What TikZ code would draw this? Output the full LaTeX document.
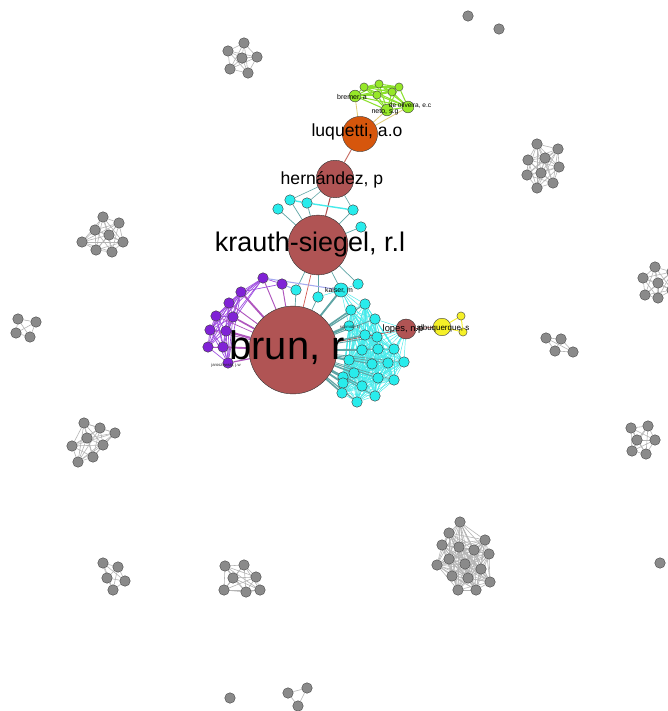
\documentclass[tikz,border=0pt]{standalone}
\usepackage{fontspec}
\setmainfont{Liberation Sans}

\definecolor{hubred}{RGB}{176,84,84}
\definecolor{luqorange}{RGB}{214,86,12}
\definecolor{lgreen}{RGB}{150,232,40}
\definecolor{vpurple}{RGB}{128,34,214}
\definecolor{ncyan}{RGB}{40,236,236}
\definecolor{nyellow}{RGB}{245,240,40}
\definecolor{ngray}{RGB}{138,138,138}
\definecolor{egray}{RGB}{180,180,180}
\definecolor{ecyan}{RGB}{70,235,235}
\definecolor{eteal}{RGB}{95,165,165}
\definecolor{epurple}{RGB}{160,80,225}
\definecolor{emauve}{RGB}{175,85,190}
\definecolor{egreen}{RGB}{140,225,45}
\definecolor{etan}{RGB}{225,205,120}
\definecolor{ered}{RGB}{200,110,100}
\definecolor{elav}{RGB}{165,170,240}

\pgfdeclarelayer{paper}
\pgfdeclarelayer{links}
\pgfsetlayers{paper,links,main}

% every pair of nodes #1\i, #1\j joined
\newcommand{\meshall}[3]{%
  \foreach \i in {1,...,#2}{\foreach \j in {\i,...,#2}{%
    \ifnum\i<\j\relax \draw[#3] (#1\i) -- (#1\j);\fi}}}

\begin{document}
\begin{tikzpicture}[x=0.03cm, y=-0.03cm,
	vert/.style={circle, draw=black!75, line width=0.35pt, inner sep=0pt, minimum size=9pt},
	hub/.style={vert, fill=hubred, draw=black!80},
	gnode/.style={vert, fill=ngray, draw=black!70, minimum size=9pt},
	cnode/.style={vert, fill=ncyan},
	pnode/.style={vert, fill=vpurple},
	lnode/.style={vert, fill=lgreen, minimum size=7pt},
	ynode/.style={vert, fill=nyellow, minimum size=7pt},
	gedge/.style={draw=egray, line width=0.5pt},
	cedge/.style={draw=ecyan, line width=0.4pt},
	pedge/.style={draw=epurple, line width=0.6pt},
	ledge/.style={draw=egreen, line width=0.9pt},
	tag/.style={inner sep=0pt, text=black!85, font=\fontsize{3.6}{4}\selectfont}]
	\useasboundingbox (0,0) rectangle (667,711);
	\begin{pgfonlayer}{paper}
		\fill[white] (0,0) rectangle (667,711);
	\end{pgfonlayer}

	% gray groups
	\foreach \x/\y [count=\k] in {244/43,228/51,242/58,257/57,230/69,248/73}
		\node[gnode] (ga\k) at (\x,\y) {};
	\foreach \x/\y [count=\k] in {468/16,499/29}
		\node[gnode] (gb\k) at (\x,\y) {};
	\foreach \x/\y [count=\k] in {537/144,558/149,528/160,545/158,559/167,527/175,541/173,553/183,537/188}
		\node[gnode] (gc\k) at (\x,\y) {};
	\foreach \x/\y [count=\k] in {103/217,119/223,95/230,109/235,82/242,123/242,96/250,112/252}
		\node[gnode] (gd\k) at (\x,\y) {};
	\foreach \x/\y [count=\k] in {18/319,36/322,30/337,16/333}
		\node[gnode] (ge\k) at (\x,\y) {};
	\foreach \x/\y [count=\k] in {655/267,643/278,658/283,645/295,658/298,672/272,672/290}
		\node[gnode] (gf\k) at (\x,\y) {};
	\foreach \x/\y [count=\k] in {546/338,561/339,573/352,555/351}
		\node[gnode] (gg\k) at (\x,\y) {};
	\foreach \x/\y [count=\k] in {631/428,648/426,637/440,655/440,646/454,632/451}
		\node[gnode] (gh\k) at (\x,\y) {};
	\foreach \x/\y [count=\k] in {84/423,100/428,115/433,87/438,103/445,72/446,93/457,78/462}
		\node[gnode] (gi\k) at (\x,\y) {};
	\foreach \x/\y [count=\k] in {460/522,449/533,485/540,442/545,459/547,474/550,489/554,449/559,465/564,481/569,437/565,452/576,468/578,490/582,476/590,458/590}
		\node[gnode] (gj\k) at (\x,\y) {};
	\foreach \x/\y [count=\k] in {103/563,118/567,107/578,125/581,113/590}
		\node[gnode] (gk\k) at (\x,\y) {};
	\foreach \x/\y [count=\k] in {225/566,244/565,233/578,256/577,224/590,246/592,260/590}
		\node[gnode] (gl\k) at (\x,\y) {};
	\foreach \x/\y [count=\k] in {288/693,307/688,298/706}
		\node[gnode] (gn\k) at (\x,\y) {};
	\node[gnode] (gm) at (230,698) {};
	\node[gnode] (go) at (660,563) {};

	% main component
	\node[hub, minimum size=75pt] (brun) at (293,350) {};
	\node[hub, minimum size=51pt] (krauth) at (318,245) {};
	\node[hub, minimum size=32pt] (hern) at (335,179) {};
	\node[vert, fill=luqorange, minimum size=30pt] (luq) at (360,134) {};
	\node[hub, minimum size=17pt] (lopes) at (406,329) {};
	\node[ynode, minimum size=15pt] (albuq) at (442,327) {};
	\node[ynode] (y1) at (461,316) {};
	\node[ynode] (y2) at (463,332) {};
	\foreach \x/\y/\s [count=\k] in {355/96/10,377/95/7,392/92/7,387/110/10,408/107/10,364/87/7,379/84/7,399/87/7}
		\node[lnode, minimum size=\s pt] (l\k) at (\x,\y) {};
	\foreach \x/\y [count=\k] in {290/200,307/203,278/209,353/210,361/227,358/284,296/290,318/297}
		\node[cnode] (t\k) at (\x,\y) {};
	\node[cnode, minimum size=12pt] (kaiser) at (341,290) {};
	\foreach \x/\y [count=\k] in {365/304,351/310,375/319,349/326,365/335,377/337,362/350,378/349,394/349,349/360,372/364,388/363,404/362,354/373,343/377,378/378,394/380,343/383,362/386,342/393,375/396,357/402}
		\node[cnode] (c\k) at (\x,\y) {};
	\node[pnode] (pt1) at (263,278) {};
	\node[pnode] (pt2) at (282,284) {};
	\foreach \x/\y [count=\k] in {241/292,229/303,216/316,233/317,210/330,226/331,208/347,223/347,228/363}
		\node[pnode] (pa\k) at (\x,\y) {};

	\begin{pgfonlayer}{links}
		\foreach \g/\n in {ga/6,gc/9,gd/8,ge/4,gf/7,gg/4,gh/6,gi/8,gj/16,gk/5,gl/7,gn/3}
			\meshall{\g}{\n}{gedge};
		\meshall{c}{22}{cedge}
		\meshall{pa}{9}{pedge}
		\meshall{l}{8}{ledge}
		\draw[draw=nyellow, line width=0.8pt] (albuq) -- (y1) (albuq) -- (y2) (y1) -- (y2);
		\draw[draw=ered, line width=0.8pt] (luq) -- (hern);
		\draw[draw=hubred, line width=0.9pt] (hern) -- (krauth);
		\draw[draw=ered!80!red, line width=0.6pt] (krauth) -- (brun);
		\draw[draw=hubred, line width=0.6pt] (brun) -- (lopes) (lopes) -- (albuq);
		\foreach \k in {1,4,5}
			\draw[draw=etan, line width=0.7pt] (luq) -- (l\k);
		\foreach \k in {1,2,4}
			\draw[draw=eteal, line width=0.5pt] (hern) -- (t\k);
		\draw[draw=ecyan, line width=1.2pt] (t2) -- (t4) (t1) -- (t2);
		\foreach \k in {1,...,8}
			\draw[draw=eteal, line width=0.6pt] (krauth) -- (t\k);
		\draw[draw=eteal, line width=0.6pt] (krauth) -- (kaiser);
		\draw[draw=eteal, line width=1.6pt] (brun) -- (kaiser);
		\draw[draw=eteal, line width=0.6pt] (brun) -- (t7) (brun) -- (t8);
		\foreach \k in {1,...,6}
			\draw[cedge] (kaiser) -- (c\k);
		\draw[cedge] (kaiser) -- (t6) (kaiser) -- (t8);
		\foreach \k/\w in {1/1.0,2/1.4,3/0.8,4/2.2,5/1.2,6/0.8,7/1.6,8/0.7,9/0.6,10/1.8,11/1.0,12/0.7,13/0.6,14/1.4,15/1.8,16/0.8,17/0.6,18/1.6,19/1.0,20/1.4,21/0.8,22/1.0}
			\draw[draw=eteal, line width=\w pt] (brun) -- (c\k);
		\foreach \k in {3,5,6,7,8,9,11,12,13,16,17,21}
			\draw[cedge] (lopes) -- (c\k);
		\foreach \k/\w in {1/1.6,2/0.8,3/0.6,4/1.4,5/0.6,6/1.8,7/0.8,8/1.4,9/1.0}
			\draw[draw=emauve, line width=\w pt] (brun) -- (pa\k);
		\draw[draw=emauve, line width=0.8pt] (brun) -- (pt1) (brun) -- (pt2);
		\foreach \k in {1,...,6}
			\draw[pedge] (pt1) -- (pa\k);
		\draw[pedge] (pt1) -- (pt2) (pt2) -- (pa1);
		\draw[draw=elav, line width=0.9pt] (pt1) -- (kaiser) (pt2) -- (t7);
	\end{pgfonlayer}

	% labels
	\node[font=\fontsize{34}{34}\selectfont] (brunlab) at (287,348) {brun, r};
	\node[font=\fontsize{23}{23}\selectfont] (krauthlab) at (310,245) {krauth-siegel, r.l};
	\node[font=\fontsize{15}{15}\selectfont] (hernlab) at (332,180) {hernández, p};
	\node[font=\fontsize{15}{15}\selectfont] (luqlab) at (357,132) {luquetti, a.o};
	\node[font=\fontsize{8}{9}\selectfont, inner sep=0pt] (lopeslab) at (403,329) {lopes, n.p};
	\node[font=\fontsize{6.8}{7}\selectfont, inner sep=0pt] (albuqlab) at (443,328) {albuquerque, s};
	\node[font=\fontsize{5.9}{6}\selectfont, inner sep=0pt] (kaiserlab) at (339,290) {kaiser, m};
	\node[font=\fontsize{6}{6}\selectfont, inner sep=0pt] (bremerlab) at (352,97) {bremer, a};
	\node[font=\fontsize{6}{6}\selectfont, inner sep=0pt] (netolab) at (385,112) {neto, s.g};
	\node[font=\fontsize{5.6}{6}\selectfont, inner sep=0pt] (oliveiralab) at (410,106) {de oliveira, e.c};
	\node[tag] (schmidtlab) at (350,327) {schmidt, t.j};
	\node[tag] (jarolab) at (226,365) {jaroszewski, j.w};
\end{tikzpicture}
\end{document}
